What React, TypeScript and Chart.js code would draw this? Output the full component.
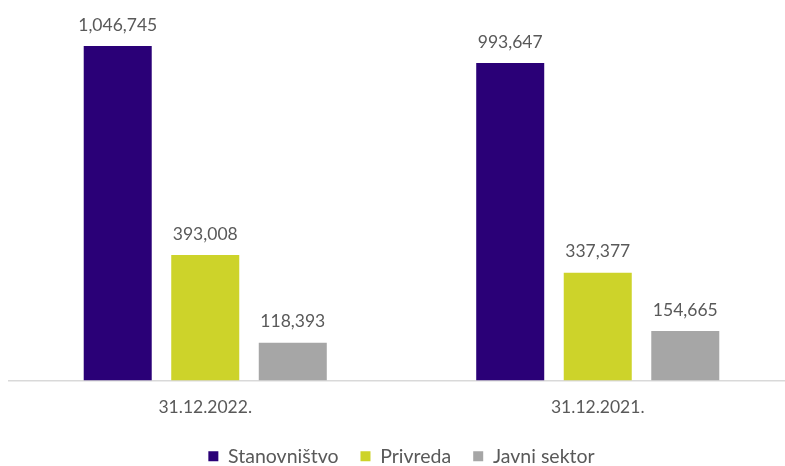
import React, { useEffect, useRef } from "react";
import { Chart, registerables } from "chart.js";

Chart.register(...registerables);

const categories = ["31.12.2022.", "31.12.2021."];
const seriesNames = ["Stanovništvo", "Privreda", "Javni sektor"];
const stanovnistvo = [1046745, 993647];
const privreda = [393008, 337377];
const javniSektor = [118393, 154665];
const colors = ["#2a0077", "#cdd32a", "#a6a6a6"];

const FONT = "Lato, 'Noto Sans', sans-serif";
const TEXT = "#595959";

const dataLabels = {
  id: "dataLabels",
  afterDatasetsDraw(chart: any) {
    const ctx = chart.ctx;
    ctx.save();
    ctx.font = `17.5px ${FONT}`;
    ctx.fillStyle = TEXT;
    ctx.textAlign = "center";
    ctx.textBaseline = "middle";
    chart.data.datasets.forEach((ds: any, di: number) => {
      const meta = chart.getDatasetMeta(di);
      meta.data.forEach((bar: any, i: number) => {
        const v = ds.data[i] as number;
        ctx.fillText(v.toLocaleString("en-US"), bar.x, bar.y - 21);
      });
    });
    ctx.restore();
  },
};

export default function App() {
  const ref = useRef<HTMLCanvasElement | null>(null);
  useEffect(() => {
    if (!ref.current) return;
    const chart = new Chart(ref.current, {
      type: "bar",
      data: {
        labels: categories,
        datasets: [stanovnistvo, privreda, javniSektor].map((d, i) => ({
          label: seriesNames[i],
          data: d,
          backgroundColor: colors[i],
          borderWidth: 0,
          categoryPercentage: 0.669,
          barPercentage: 0.777,
        })),
      },
      options: {
        animation: false,
        responsive: false,
        maintainAspectRatio: false,
        layout: { padding: { left: 9, right: 0, top: 13, bottom: -10 } },
        plugins: {
          legend: {
            position: "bottom",
            labels: {
              font: { family: FONT, size: 19.5 },
              color: TEXT,
              boxWidth: 10,
              boxHeight: 10,
              padding: 22,
            },
          },
          tooltip: { enabled: false },
        },
        scales: {
          x: {
            grid: { display: false, drawTicks: false },
            border: { display: true, color: "#d9d9d9", width: 1.5 },
            ticks: { font: { family: FONT, size: 17.5 }, color: TEXT, padding: 16 },
            afterFit: (scale: any) => {
              scale.height -= 9;
            },
          },
          y: {
            display: false,
            min: 0,
            max: 1150000,
          },
        },
      },
      plugins: [dataLabels],
    });
    return () => chart.destroy();
  }, []);
  return (
    <div style={{ position: "fixed", left: 0, top: 0, width: 785, height: 466, overflow: "hidden", background: "#fff" }}>
      <canvas ref={ref} width={794} height={466} style={{ width: 794, height: 466, display: "block" }} />
    </div>
  );
}
